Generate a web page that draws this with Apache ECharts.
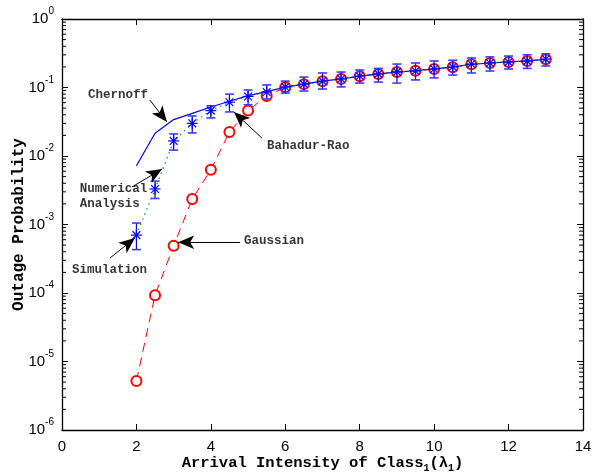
<!DOCTYPE html>
<html><head><meta charset="utf-8">
<script src="https://cdn.jsdelivr.net/npm/echarts@6/dist/echarts.min.js"></script>
<style>html,body{margin:0;padding:0;background:#fff}#c{width:592px;height:474px}</style>
</head><body><div id="c"></div>
<script>
// ---- data ----
const xValues = [2,2.5,3,3.5,4,4.5,5,5.5,6,6.5,7,7.5,8,8.5,9,9.5,10,10.5,11,11.5,12,12.5,13];
const chernoff = [0.0072,0.0215,0.034,0.042,0.052,0.063,0.076,0.087,0.101,0.112,0.124,0.134,0.147,0.158,0.168,0.176,0.187,0.199,0.218,0.228,0.236,0.244,0.258];
const numerical = [7.0e-4,3.3e-3,0.0165,0.030,0.046,0.061,0.074,0.086,0.101,0.112,0.124,0.133,0.147,0.158,0.168,0.175,0.186,0.199,0.22,0.228,0.236,0.244,0.259];
const gaussian = [5.2e-6,9.3e-5,4.9e-4,2.35e-3,6.3e-3,0.0224,0.046,0.075,0.101,0.112,0.123,0.133,0.146,0.157,0.168,0.175,0.186,0.198,0.218,0.228,0.236,0.244,0.258];
const simulation = [7.0e-4,3.3e-3,0.0166,0.030,0.046,0.061,0.074,0.086,0.102,0.112,0.124,0.133,0.147,0.158,0.169,0.174,0.186,0.199,0.22,0.228,0.235,0.243,0.26];
const simLow = [4.3e-4,2.4e-3,0.0122,0.0217,0.036,0.044,0.056,0.068,0.083,0.089,0.095,0.102,0.116,0.12,0.116,0.129,0.138,0.152,0.163,0.174,0.186,0.19,0.206];
const simHigh = [1.05e-3,4.3e-3,0.021,0.0384,0.054,0.080,0.092,0.109,0.124,0.142,0.163,0.168,0.18,0.19,0.22,0.228,0.244,0.25,0.27,0.28,0.288,0.30,0.31];
const xTicks = [0,2,4,6,8,10,12,14];
const yMin = 1e-6, yMax = 1;
const minorMultipliers = [2,3,4,5,6,7,8,9];
const decades = [-6,-5,-4,-3,-2,-1];
// annotations: text anchor (left, middle) and arrow tail -> head, in data coordinates
const annotationTexts = [
  {name:'Chernoff', pos:[0.70, 0.0778]},
  {name:'Bahadur-Rao', pos:[5.51, 0.0140]},
  {name:'Numerical\nAnalysis', pos:[0.48, 0.0026]},
  {name:'Simulation', pos:[0.27, 2.17e-4]},
  {name:'Gaussian', pos:[4.89, 5.8e-4]}
];
const annotationArrows = [
  [[2.36, 0.0657],[2.82, 0.0313]],
  [[5.37, 0.0183],[4.62, 0.0439]],
  [[1.88, 3.53e-3],[2.69, 6.46e-3]],
  [[1.29, 3.24e-4],[1.96, 6.35e-4]],
  [[4.78, 5.5e-4],[3.12, 5.5e-4]]
];

// ---- build ----
const minorTicks = [];
decades.forEach(e => minorMultipliers.forEach(m => minorTicks.push([0, m * Math.pow(10, e)])));
const pair = arr => xValues.map((x, i) => [x, arr[i]]);
const simData = xValues.map((x, i) => [x, simulation[i], simLow[i], simHigh[i]]);

const mono = 'Liberation Mono';
const sans = 'Liberation Sans, Arial, sans-serif';

const axisLine = {show:true, onZero:false, lineStyle:{color:'#000', width:1.3}};
const option = {
  animation:false,
  backgroundColor:'#fff',
  grid:{left:62, right:9, top:19, bottom:44, containLabel:false, outerBoundsMode:'none'},
  xAxis:[
    {type:'value', min:0, max:14, interval:2, position:'bottom',
     axisLine, axisTick:{show:true, inside:true, length:6, lineStyle:{color:'#000'}},
     splitLine:{show:false},
     axisLabel:{fontFamily:sans, fontSize:15, color:'#000', margin:9},
     name:'Arrival Intensity of Class{s|1}(λ{s|1})', nameLocation:'middle', nameGap:24,
     nameMoveOverlap:false,
     nameTextStyle:{fontFamily:mono, fontWeight:'bold', fontSize:15.5, color:'#000',
       rich:{s:{fontFamily:mono, fontWeight:'bold', fontSize:10, color:'#000', padding:[9,0,0,0]}}}},
    {type:'value', min:0, max:14, interval:2, position:'top',
     axisLine, axisTick:{show:true, inside:true, length:6, lineStyle:{color:'#000'}},
     splitLine:{show:false}, axisLabel:{show:false}}
  ],
  yAxis:[
    {type:'log', logBase:10, min:yMin, max:yMax, position:'left',
     axisLine, axisTick:{show:true, inside:true, length:6, lineStyle:{color:'#000'}},
     splitLine:{show:false}, minorTick:{show:false},
     axisLabel:{margin:8, color:'#000',
       formatter: v => '{b|10}{e|' + Math.round(Math.log10(v)) + '}',
       rich:{b:{fontFamily:sans, fontSize:15, color:'#000'},
             e:{fontFamily:sans, fontSize:10, color:'#000', padding:[0,0,15,0]}}},
     name:'Outage Probability', nameLocation:'middle', nameGap:35, nameRotate:90,
     nameMoveOverlap:false,
     nameTextStyle:{fontFamily:mono, fontWeight:'bold', fontSize:16, color:'#000'}},
    {type:'log', logBase:10, min:yMin, max:yMax, position:'right',
     axisLine, axisTick:{show:true, inside:true, length:6, lineStyle:{color:'#000'}},
     splitLine:{show:false}, axisLabel:{show:false}}
  ],
  series:[
    {type:'custom', name:'minorTicks', data:minorTicks, silent:true, z:5, clip:false,
     encode:{x:0, y:1},
     renderItem:(params, api) => {
       const v = api.value(1);
       const l = api.coord([0, v]), r = api.coord([14, v]);
       const st = {stroke:'#000', lineWidth:1};
       return {type:'group', children:[
         {type:'line', shape:{x1:l[0], y1:l[1], x2:l[0]+4, y2:l[1]}, style:st},
         {type:'line', shape:{x1:r[0]-4, y1:r[1], x2:r[0], y2:r[1]}, style:st}
       ]};
     }},
    {type:'line', name:'Gaussian', data:pair(gaussian), symbol:'emptyCircle', symbolSize:10,
     showSymbol:true, itemStyle:{color:'#ff0000', borderColor:'#ff0000', borderWidth:1},
     lineStyle:{color:'#ff0000', width:1, type:[9,6]}, emphasis:{disabled:true}, z:2},
    {type:'line', name:'Chernoff', data:pair(chernoff), symbol:'none',
     lineStyle:{color:'#0000ff', width:1.2}, emphasis:{disabled:true}, z:3},
    {type:'line', name:'Numerical', data:pair(numerical), symbol:'none',
     lineStyle:{color:'#1a9a1a', width:1.2, type:[1.5,4]}, emphasis:{disabled:true}, z:3},
    {type:'custom', name:'Simulation', data:simData, encode:{x:0, y:1}, z:4, silent:true,
     renderItem:(params, api) => {
       const x = api.value(0);
       const c = api.coord([x, api.value(1)]);
       const lo = api.coord([x, api.value(2)]);
       const hi = api.coord([x, api.value(3)]);
       const blue = '#0000ff', cap = 4.5, s = 5.5, d = 3.9;
       const st = {stroke:blue, lineWidth:1.2};
       const cst = {stroke:'#3c3cff', lineWidth:1.6};
       const ln = (x1,y1,x2,y2,style) => ({type:'line', shape:{x1,y1,x2,y2}, style});
       return {type:'group', children:[
         ln(c[0], lo[1], c[0], hi[1], st),
         ln(c[0]-cap, lo[1], c[0]+cap, lo[1], cst),
         ln(c[0]-cap, hi[1], c[0]+cap, hi[1], cst),
         ln(c[0]-s, c[1], c[0]+s, c[1], st),
         ln(c[0], c[1]-s, c[0], c[1]+s, st),
         ln(c[0]-d, c[1]-d, c[0]+d, c[1]+d, st),
         ln(c[0]-d, c[1]+d, c[0]+d, c[1]-d, st)
       ]};
     }},
    {type:'scatter', name:'annotations', silent:true, z:6,
     data:annotationTexts.map(a => ({name:a.name, value:a.pos})),
     symbolSize:1, itemStyle:{color:'rgba(0,0,0,0)'},
     label:{show:true, position:'inside', align:'left', verticalAlign:'middle',
       formatter:p => p.name, fontFamily:mono, fontWeight:'bold', fontSize:12.5,
       lineHeight:15, color:'#000'},
     markLine:{silent:true, symbol:['none','arrow'], symbolSize:[10,16],
       lineStyle:{color:'#000', width:1, type:'solid'}, label:{show:false},
       emphasis:{disabled:true},
       data:annotationArrows.map(a => [{coord:a[0]}, {coord:a[1]}])}}
  ]
};
const chart = echarts.init(document.getElementById('c'), null, {renderer:'canvas'});
chart.setOption(option);
</script>
</body></html>
